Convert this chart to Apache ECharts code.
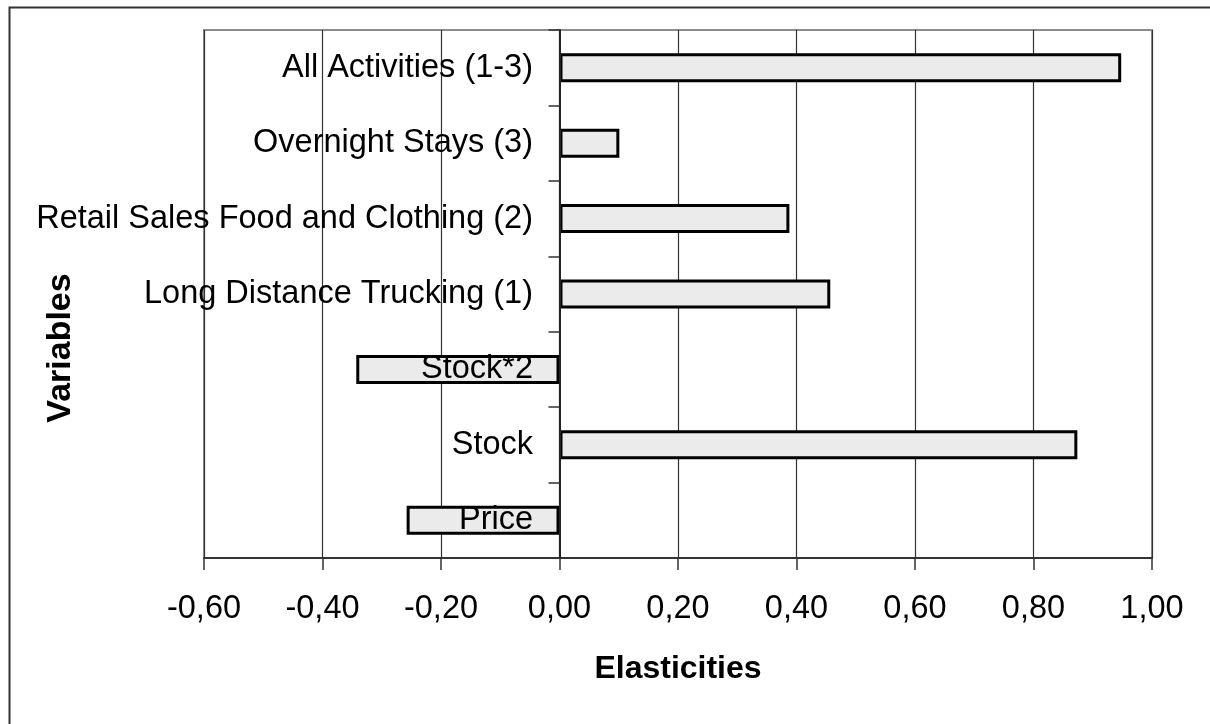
<!DOCTYPE html>
<html>
<head>
<meta charset="utf-8">
<script src="https://cdn.jsdelivr.net/npm/echarts@6/dist/echarts.min.js"></script>
<style>
  html, body { margin: 0; padding: 0; background: #ffffff; }
  #chart { width: 1210px; height: 724px; }
</style>
</head>
<body>
<div id="chart"></div>
<script>
// Categories, top to bottom
const categories = [
  'All Activities (1-3)',
  'Overnight Stays (3)',
  'Retail Sales Food and Clothing (2)',
  'Long Distance Trucking (1)',
  'Stock*2',
  'Stock',
  'Price'
];
// Elasticities
const elasticities = [0.948, 0.101, 0.388, 0.457, -0.343, 0.874, -0.258];
// X axis ticks
const xMin = -0.6;
const xMax = 1.0;
const xStep = 0.2;
const xTitle = 'Elasticities';
const yTitle = 'Variables';

const FONT = "'Liberation Sans', Arial, Helvetica, sans-serif";

const chart = echarts.init(document.getElementById('chart'), null, { renderer: 'canvas' });
chart.setOption({
  animation: false,
  backgroundColor: '#ffffff',
  textStyle: { fontFamily: FONT },
  grid: {
    left: 204, right: 58, top: 30, bottom: 166,
    containLabel: false,
    outerBoundsMode: 'none',
    show: true, borderColor: '#8c8c8c', borderWidth: 2, backgroundColor: 'transparent'
  },
  graphic: [
    {
      type: 'rect', silent: true, z: 100,
      shape: { x: 9.5, y: 7.5, width: 1400, height: 900 },
      style: { fill: 'none', stroke: '#333333', lineWidth: 2 }
    },
    {
      type: 'text', silent: true, z: 100,
      x: 61, y: 348, rotation: Math.PI / 2,
      style: {
        text: yTitle, fontFamily: FONT, fontWeight: 'bold', fontSize: 34,
        fill: '#000000', align: 'center', verticalAlign: 'middle'
      }
    }
  ],
  xAxis: {
    type: 'value',
    min: xMin, max: xMax, interval: xStep,
    name: xTitle,
    nameLocation: 'middle',
    nameGap: 95,
    nameTextStyle: { fontFamily: FONT, fontWeight: 'bold', fontSize: 32, color: '#000000' },
    axisLine: { show: true, onZero: false, lineStyle: { color: '#333333', width: 2 } },
    axisTick: { show: true, inside: false, length: 12, lineStyle: { color: '#333333', width: 1.5 } },
    axisLabel: {
      fontFamily: FONT, fontSize: 32.5, color: '#000000', margin: 35,
      formatter: function (v) {
        if (Math.abs(v) < 1e-9) v = 0;
        return v.toFixed(2).replace('.', ',');
      }
    },
    splitLine: { show: true, lineStyle: { color: '#333333', width: 1.2 } }
  },
  yAxis: {
    type: 'category',
    data: categories,
    inverse: true,
    z: 10,
    axisLine: { show: true, onZero: true, lineStyle: { color: '#222222', width: 2 } },
    axisTick: { show: true, inside: false, length: 11, alignWithLabel: false, lineStyle: { color: '#333333', width: 1.5 } },
    axisLabel: { fontFamily: FONT, fontSize: 32.5, color: '#000000', margin: -329, hideOverlap: false },
    splitLine: { show: false }
  },
  series: [{
    type: 'bar',
    data: elasticities,
    barWidth: 29,
    itemStyle: { color: '#ebebeb', borderColor: '#000000', borderWidth: 3 },
    emphasis: { disabled: true }
  }]
});
</script>
</body>
</html>
